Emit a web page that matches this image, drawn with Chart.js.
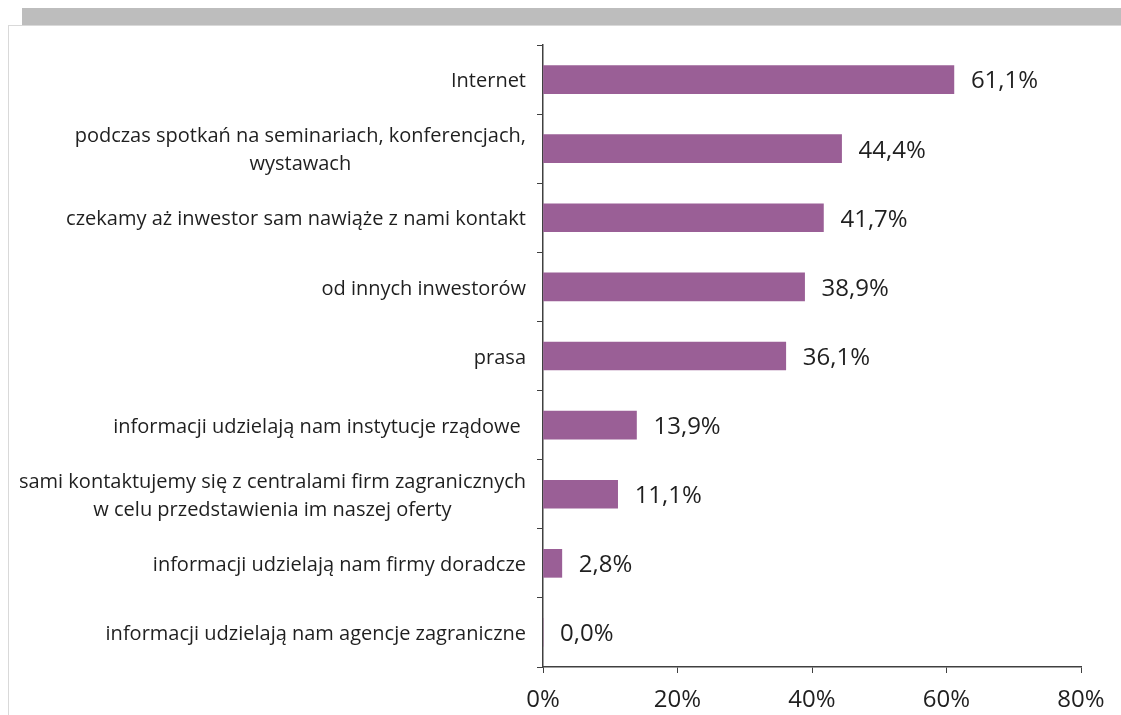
<!DOCTYPE html>
<html lang="pl">
<head>
<meta charset="utf-8" />
<title>Źródła informacji o inwestorach</title>
<script src="https://cdn.jsdelivr.net/npm/chart.js"></script>
<style>
    html, body { margin: 0; padding: 0; background: #fff; }
    #wrap { position: relative; width: 1121px; height: 715px; overflow: hidden; }
    #band { position: absolute; left: 22px; top: 8px; right: 0; height: 17px; background: #bdbdbd; }
    #panel { position: absolute; left: 8px; top: 25px; right: -2px; bottom: -2px; border: 1px solid #d9d9d9; background: #fff; }
    #chart { position: absolute; left: 0; top: 0; }
</style>
</head>
<body>
<div id="wrap">
    <div id="band"></div>
    <div id="panel"></div>
    <canvas id="chart" width="1121" height="715"></canvas>
</div>
<script>
    var categories = [
        ['Internet'],
        ['podczas spotkań na seminariach, konferencjach,', 'wystawach'],
        ['czekamy aż inwestor sam nawiąże z nami kontakt'],
        ['od innych inwestorów'],
        ['prasa'],
        ['informacji udzielają nam instytucje rządowe '],
        ['sami kontaktujemy się z centralami firm zagranicznych', 'w celu przedstawienia im naszej oferty'],
        ['informacji udzielają nam firmy doradcze'],
        ['informacji udzielają nam agencje zagraniczne']
    ];
    var shares = [61.1, 44.4, 41.7, 38.9, 36.1, 13.9, 11.1, 2.8, 0.0];
    var xTicks = [0, 20, 40, 60, 80];

    var FONT = '"Open Sans", "Noto Sans", sans-serif';
    var INK = '#1f1f1f';

    function pct(v) {
        return v.toFixed(1).replace('.', ',') + '%';
    }

    // category names: right-aligned block, lines centred inside it
    var categoryLabels = {
        id: 'categoryLabels',
        afterDraw: function (chart) {
            var ctx = chart.ctx;
            var y = chart.scales.y;
            var right = y.right - 17;
            ctx.save();
            ctx.font = '20px ' + FONT;
            ctx.fillStyle = INK;
            ctx.textAlign = 'center';
            ctx.textBaseline = 'middle';
            var lh = 28;
            categories.forEach(function (lines, i) {
                var w = 0;
                lines.forEach(function (t) { w = Math.max(w, ctx.measureText(t).width); });
                var cx = right - w / 2;
                var cy = y.getPixelForValue(i) + 2 - (lines.length - 1) * lh / 2;
                lines.forEach(function (t, k) {
                    ctx.fillText(t, cx, cy + k * lh);
                });
            });
            ctx.restore();
        }
    };

    // value labels to the right of each bar
    var valueLabels = {
        id: 'valueLabels',
        afterDatasetsDraw: function (chart) {
            var ctx = chart.ctx;
            var meta = chart.getDatasetMeta(0);
            ctx.save();
            ctx.font = '24px ' + FONT;
            ctx.fillStyle = INK;
            ctx.textAlign = 'left';
            ctx.textBaseline = 'middle';
            meta.data.forEach(function (bar, i) {
                ctx.fillText(pct(shares[i]), bar.x + 17, bar.y + 2);
            });
            ctx.restore();
        }
    };

    new Chart(document.getElementById('chart'), {
        type: 'bar',
        data: {
            labels: categories.map(function (c) { return c.join(' '); }),
            datasets: [{
                data: shares,
                backgroundColor: '#9a5f96',
                borderWidth: 0,
                barThickness: 28
            }]
        },
        options: {
            indexAxis: 'y',
            responsive: false,
            animation: false,
            layout: { padding: { top: 45, right: 40, bottom: 0, left: 0 } },
            plugins: {
                legend: { display: false },
                tooltip: { enabled: false }
            },
            scales: {
                x: {
                    min: 0,
                    max: 80,
                    afterBuildTicks: function (s) {
                        s.ticks = xTicks.map(function (v) { return { value: v }; });
                    },
                    afterFit: function (s) { s.height = 48; },
                    grid: {
                        drawOnChartArea: false,
                        drawTicks: true,
                        tickLength: 6,
                        color: '#404040'
                    },
                    border: { color: '#404040', width: 1.5 },
                    ticks: {
                        padding: 13,
                        color: INK,
                        font: { family: FONT, size: 24 },
                        callback: function (v) { return v + '%'; }
                    }
                },
                y: {
                    offset: true,
                    afterFit: function (s) { s.width = 543; },
                    grid: {
                        offset: true,
                        drawOnChartArea: false,
                        drawTicks: true,
                        tickLength: 6,
                        color: '#404040'
                    },
                    border: { color: '#404040', width: 1.5 },
                    ticks: { display: false }
                }
            }
        },
        plugins: [categoryLabels, valueLabels]
    });
</script>
</body>
</html>
